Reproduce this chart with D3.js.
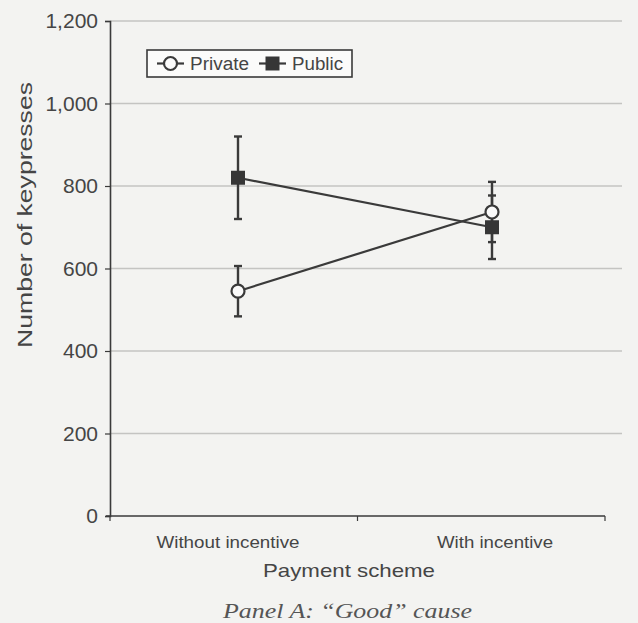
<!DOCTYPE html>
<html>
<head>
<meta charset="utf-8">
<script src="https://cdn.jsdelivr.net/npm/d3@7"></script>
<style>
  html, body { margin: 0; padding: 0; background: #f3f3f1; }
  svg { display: block; }
</style>
</head>
<body>
<script>
// Payment scheme conditions
const categories = ["Without incentive", "With incentive"];
// Mean keypresses and standard error for each series
const privateMeans = [545, 737];
const privateErrors = [61, 73];
const publicMeans = [820, 700];
const publicErrors = [100, 77];
const yTicks = [0, 200, 400, 600, 800, 1000, 1200];

const W = 638, H = 623;
const svg = d3.select("body").append("svg").attr("width", W).attr("height", H);

const ink = "#3a3a3a";
const sans = "Liberation Sans, Arial, sans-serif";
const y = d3.scaleLinear().domain([0, 1200]).range([516, 21]);
const x = d3.scalePoint().domain(categories).range([238, 492]);
const axisLeft = 110, axisRight = 605;

// Horizontal gridlines
svg.append("g").selectAll("line").data(yTicks.filter(d => d > 0)).join("line")
  .attr("x1", axisLeft).attr("x2", 622)
  .attr("y1", d => y(d)).attr("y2", d => y(d))
  .attr("stroke", "#c4c4c2").attr("stroke-width", 1.5);

// Y axis
const yAxis = d3.axisLeft(y).tickValues(yTicks).tickSize(5).tickPadding(7)
  .tickFormat(d3.format(","));
const gy = svg.append("g").attr("transform", `translate(${axisLeft},0)`).call(yAxis);
gy.select(".domain").attr("stroke", ink).attr("stroke-width", 1.6);
gy.selectAll(".tick line").attr("stroke", ink).attr("stroke-width", 1.2);
gy.selectAll("text").attr("fill", "#454545").style("font-family", sans)
  .style("font-size", "21px");

// X axis: a baseline with a divider tick between the two conditions
const gx = svg.append("g");
gx.append("line").attr("x1", axisLeft - 4).attr("x2", axisRight)
  .attr("y1", y(0)).attr("y2", y(0)).attr("stroke", ink).attr("stroke-width", 1.6);
[axisLeft, (axisLeft + axisRight) / 2, axisRight].forEach(px => {
  gx.append("line").attr("x1", px).attr("x2", px).attr("y1", y(0)).attr("y2", y(0) + 5)
    .attr("stroke", ink).attr("stroke-width", 1.2);
});
const labelX = [228, 495];
const labelW = [143, 116];
gx.selectAll("text").data(categories).join("text")
  .attr("x", (d, i) => labelX[i] - labelW[i] / 2).attr("y", 548)
  .attr("textLength", (d, i) => labelW[i]).attr("lengthAdjust", "spacingAndGlyphs")
  .attr("fill", "#454545")
  .style("font-family", sans).style("font-size", "17px")
  .text(d => d);

// Axis titles
svg.append("text").attr("x", 263).attr("y", 577)
  .attr("textLength", 172).attr("lengthAdjust", "spacingAndGlyphs")
  .attr("fill", "#454545").style("font-family", sans)
  .style("font-size", "19px").text("Payment scheme");
svg.append("text").attr("transform", "translate(32,348) rotate(-90)")
  .attr("textLength", 266).attr("lengthAdjust", "spacingAndGlyphs")
  .attr("fill", "#454545")
  .style("font-family", sans).style("font-size", "20px")
  .text("Number of keypresses");

// Panel caption
svg.append("text").attr("x", 223).attr("y", 618)
  .attr("textLength", 249).attr("lengthAdjust", "spacingAndGlyphs")
  .attr("fill", "#555").style("font-family", "Liberation Serif, Times New Roman, serif")
  .style("font-style", "italic").style("font-size", "20px")
  .text("Panel A: \u201cGood\u201d cause");

// Series
const series = [
  { name: "Private", means: privateMeans, errs: privateErrors, marker: "circle" },
  { name: "Public", means: publicMeans, errs: publicErrors, marker: "square" }
];
const line = d3.line().x((d, i) => x(categories[i])).y(d => y(d));

function drawMarker(g, kind, cx, cy) {
  if (kind === "circle") {
    g.append("circle").attr("cx", cx).attr("cy", cy).attr("r", 6.5)
      .attr("fill", "#fafafa").attr("stroke", ink).attr("stroke-width", 2.2);
  } else {
    g.append("rect").attr("x", cx - 7).attr("y", cy - 7).attr("width", 14).attr("height", 14)
      .attr("fill", "#363636");
  }
}

series.forEach(s => {
  const g = svg.append("g");
  // error bars
  s.means.forEach((m, i) => {
    const cx = x(categories[i]);
    const lo = m - s.errs[i], hi = m + s.errs[i];
    g.append("line").attr("x1", cx).attr("x2", cx).attr("y1", y(lo)).attr("y2", y(hi))
      .attr("stroke", ink).attr("stroke-width", 2.4);
    [lo, hi].forEach(v => g.append("line").attr("x1", cx - 4).attr("x2", cx + 4)
      .attr("y1", y(v)).attr("y2", y(v)).attr("stroke", ink).attr("stroke-width", 2.4));
  });
  g.append("path").datum(s.means).attr("d", line).attr("fill", "none")
    .attr("stroke", ink).attr("stroke-width", 2.2);
});
series.forEach(s => {
  const g = svg.append("g");
  s.means.forEach((m, i) => drawMarker(g, s.marker, x(categories[i]), y(m)));
});

// Legend
const lg = svg.append("g");
lg.append("rect").attr("x", 147).attr("y", 50).attr("width", 205).attr("height", 27)
  .attr("fill", "#fbfbfa").attr("stroke", ink).attr("stroke-width", 1.6);
const legendItems = [
  { s: series[0], x0: 157, tw: 59 },
  { s: series[1], x0: 259, tw: 51 }
];
legendItems.forEach(it => {
  lg.append("line").attr("x1", it.x0).attr("x2", it.x0 + 27).attr("y1", 63.5).attr("y2", 63.5)
    .attr("stroke", ink).attr("stroke-width", 2.2);
  drawMarker(lg, it.s.marker, it.x0 + 13.5, 63.5);
  lg.append("text").attr("x", it.x0 + 33).attr("y", 70)
    .attr("textLength", it.tw).attr("lengthAdjust", "spacingAndGlyphs")
    .attr("fill", "#454545")
    .style("font-family", sans).style("font-size", "18px")
    .text(it.s.name);
});
</script>
</body>
</html>
